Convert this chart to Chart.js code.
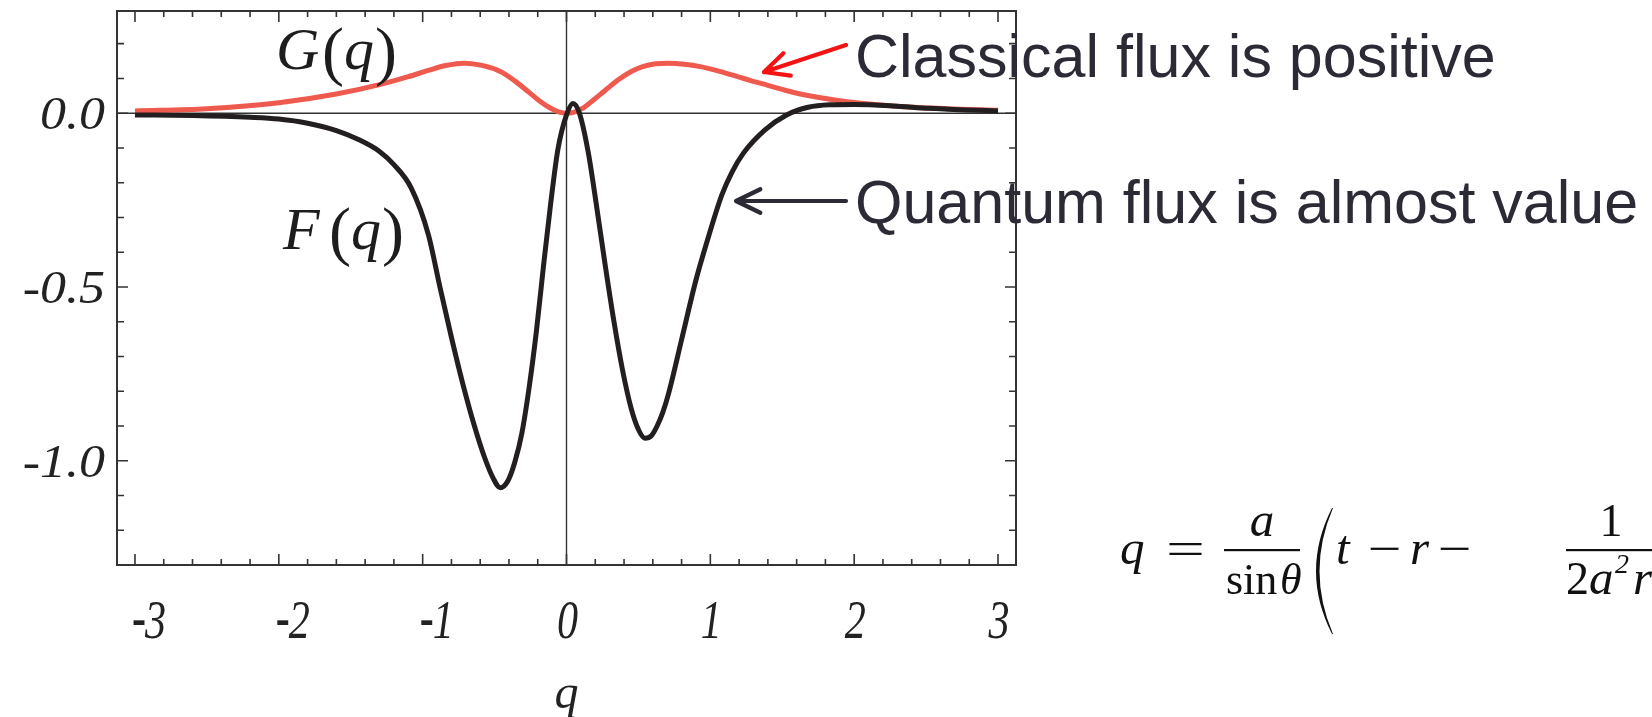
<!DOCTYPE html>
<html>
<head>
<meta charset="utf-8">
<script src="https://cdn.jsdelivr.net/npm/chart.js@4.4.1/dist/chart.umd.min.js"></script>
<style>
  html, body { margin: 0; padding: 0; background: #fff; }
  canvas { display: block; }
</style>
</head>
<body>
<canvas id="flux" width="1652" height="717"></canvas>
<script>
// quantum flux F(q)
const qF = [-3.0, -2.6, -2.2, -2.0, -1.8, -1.6, -1.45, -1.3, -1.2, -1.08, -0.96, -0.88, -0.80, -0.72,
            -0.64, -0.57, -0.51, -0.46, -0.41, -0.36, -0.31, -0.26, -0.21, -0.16, -0.11, -0.06, 0.0,
            0.045, 0.09, 0.15, 0.21, 0.27, 0.33, 0.39, 0.45, 0.50, 0.545, 0.59, 0.63, 0.67, 0.71,
            0.80, 0.90, 0.98, 1.08, 1.15, 1.23, 1.38, 1.53, 1.68, 1.83, 2.0, 2.27, 2.52, 2.77, 3.0];
const fluxF = [-0.005, -0.007, -0.012, -0.017, -0.029, -0.05, -0.075, -0.11, -0.148, -0.215, -0.35, -0.50, -0.645, -0.78,
               -0.90, -0.99, -1.05, -1.078, -1.06, -1.005, -0.92, -0.79, -0.63, -0.44, -0.26, -0.105, -0.005,
               0.028, 0.0, -0.11, -0.27, -0.44, -0.60, -0.74, -0.85, -0.91, -0.935, -0.928, -0.90, -0.86, -0.806,
               -0.652, -0.48, -0.365, -0.235, -0.17, -0.115, -0.048, -0.005, 0.017, 0.024, 0.025, 0.021, 0.014, 0.0095, 0.0066];

// classical flux G(q)
const qG = [-3.0, -2.5, -2.0, -1.6, -1.3, -1.1, -0.96, -0.84, -0.71, -0.58, -0.46, -0.36, -0.26, -0.18,
            -0.11, -0.05, 0.0, 0.06, 0.12, 0.185, 0.27, 0.36, 0.45, 0.53, 0.62, 0.71, 0.82, 0.93,
            1.04, 1.15, 1.27, 1.40, 1.52, 1.65, 1.90, 2.27, 2.64, 3.0];
const fluxG = [0.0066, 0.013, 0.03, 0.055, 0.082, 0.105, 0.123, 0.137, 0.144, 0.137, 0.12, 0.093, 0.06, 0.033,
               0.014, 0.003, 0.0, 0.004, 0.016, 0.037, 0.066, 0.096, 0.12, 0.134, 0.142, 0.144, 0.141, 0.134,
               0.123, 0.11, 0.095, 0.08, 0.066, 0.053, 0.036, 0.021, 0.013, 0.0085];

const xTicks = [-3, -2, -1, 0, 1, 2, 3];
const xTickLabels = ['-3', '-2', '-1', '0', '1', '2', '3'];
const yTicks = [0, -0.5, -1];
const yTickLabels = ['0.0', '-0.5', '-1.0'];

const AXIS = '#333333';
const INK = '#2b2a35';
const SERIF = '"Liberation Serif", "Times New Roman", serif';
const SANS = '"Liberation Sans", Arial, sans-serif';

function arrow(ctx, x1, y1, x2, y2, color) {
    const ang = Math.atan2(y2 - y1, x2 - x1);
    const len = 27, spread = 0.45;
    ctx.save();
    ctx.strokeStyle = color;
    ctx.lineWidth = 4.2;
    ctx.lineCap = 'round';
    ctx.lineJoin = 'round';
    ctx.beginPath();
    ctx.moveTo(x1, y1);
    ctx.lineTo(x2, y2);
    ctx.moveTo(x2 - len * Math.cos(ang - spread), y2 - len * Math.sin(ang - spread));
    ctx.lineTo(x2, y2);
    ctx.lineTo(x2 - len * Math.cos(ang + spread), y2 - len * Math.sin(ang + spread));
    ctx.stroke();
    ctx.restore();
}

// draw text stretched horizontally by sx
function stretched(ctx, text, x, y, sx, align) {
    ctx.save();
    ctx.translate(x, y);
    ctx.scale(sx, 1);
    ctx.textAlign = align || 'left';
    ctx.fillText(text, 0, 0);
    ctx.restore();
}

// pieces: [text, font, x, dy]
function pieces(ctx, list, baseline, align) {
    ctx.textAlign = align || 'left';
    ctx.textBaseline = 'alphabetic';
    list.forEach(([t, f, x, dy]) => {
        ctx.font = f;
        ctx.fillText(t, x, baseline + (dy || 0));
    });
}

function funcLabel(ctx, letter, x, baseline) {
    const it = 'italic 60px ' + SERIF;
    const up = '66px ' + SERIF;
    pieces(ctx, [
        [letter, it, x],
        ['(', up, x + 46, 4],
        ['q', it, x + 68],
        [')', up, x + 99, 4]
    ], baseline);
}

const framePlugin = {
    id: 'framePlugin',
    beforeDatasetsDraw(chart) {
        const {ctx, chartArea: a, scales: {x, y}} = chart;
        const x0 = x.getPixelForValue(0), y0 = y.getPixelForValue(0);
        ctx.save();
        ctx.strokeStyle = AXIS;
        ctx.lineWidth = 1.4;
        ctx.beginPath();
        ctx.moveTo(x0, a.top); ctx.lineTo(x0, a.bottom);
        ctx.moveTo(a.left, y0); ctx.lineTo(a.right, y0);
        ctx.stroke();
        ctx.restore();
    },
    afterDatasetsDraw(chart) {
        const {ctx, chartArea: a, scales: {x, y}} = chart;
        ctx.save();
        ctx.strokeStyle = AXIS;

        // tick marks on all four sides, pointing inward
        ctx.lineWidth = 1.6;
        ctx.beginPath();
        for (let i = -15; i <= 15; i++) {
            const px = x.getPixelForValue(i / 5);
            const len = (i % 5 === 0) ? 11 : 6;
            ctx.moveTo(px, a.bottom); ctx.lineTo(px, a.bottom - len);
            ctx.moveTo(px, a.top); ctx.lineTo(px, a.top + len);
        }
        for (let i = -12; i <= 2; i++) {
            const py = y.getPixelForValue(i / 10);
            const len = (i % 5 === 0) ? 11 : 7;
            ctx.moveTo(a.left, py); ctx.lineTo(a.left + len, py);
            ctx.moveTo(a.right, py); ctx.lineTo(a.right - len, py);
        }
        ctx.stroke();

        // frame
        ctx.lineWidth = 2;
        ctx.strokeRect(a.left, a.top, a.right - a.left, a.bottom - a.top);

        // tick labels
        ctx.fillStyle = '#222';
        ctx.textBaseline = 'alphabetic';
        xTicks.forEach((v, i) => {
            const px = x.getPixelForValue(v);
            const lab = xTickLabels[i];
            if (lab[0] === '-') {
                ctx.font = 'bold 54px ' + SERIF;
                stretched(ctx, '-', px - 3, 636, 0.78, 'left');
                ctx.font = 'italic 54px ' + SERIF;
                stretched(ctx, lab.slice(1), px + 10, 638, 0.78, 'left');
            } else {
                ctx.font = 'italic 54px ' + SERIF;
                stretched(ctx, lab, px + 1, 638, 0.78, 'center');
            }
        });
        ctx.font = 'italic 46px ' + SERIF;
        yTicks.forEach((v, i) => stretched(ctx, yTickLabels[i], 105, y.getPixelForValue(v) + 16, 1.13, 'right'));

        // axis title
        ctx.font = 'italic 48px ' + SERIF;
        ctx.textAlign = 'center';
        ctx.fillText('q', x.getPixelForValue(0), 708);

        // curve names
        ctx.fillStyle = '#1e1c1d';
        funcLabel(ctx, 'G', 276, 69);
        funcLabel(ctx, 'F', 283, 249);

        // annotations
        ctx.fillStyle = INK;
        ctx.font = '61px ' + SANS;
        ctx.textAlign = 'left';
        ctx.fillText('Classical', 855, 77);
        ctx.fillText('flux is positive', 1116, 77);
        ctx.fillText('Quantum flux is almost value', 855, 223);
        arrow(ctx, 846, 45, 764, 72, '#f21414');
        arrow(ctx, 846, 201, 736, 201, INK);

        // definition of q
        ctx.fillStyle = '#111';
        const mi = 'italic 49px ' + SERIF, mu = '46px ' + SERIF, sm = 'italic 28px ' + SERIF;
        ctx.font = mi;
        ctx.fillText('q', 1120, 564);
        ctx.font = mu;
        stretched(ctx, '=', 1166, 564, 1.5, 'left');
        stretched(ctx, '\u2212', 1368, 564, 1.3, 'left');
        stretched(ctx, '\u2212', 1438, 564, 1.3, 'left');
        pieces(ctx, [
            ['t', mi, 1336],
            ['r', mi, 1410]
        ], 564);
        ctx.fillRect(1224, 549, 76, 2.2);
        ctx.fillRect(1566, 549, 100, 2.2);
        pieces(ctx, [['a', mi, 1262], ['1', mu, 1611]], 536, 'center');
        pieces(ctx, [
            ['sin', '44px ' + SERIF, 1226],
            ['\u03b8', 'italic 44px ' + SERIF, 1280],
            ['2', mu, 1566],
            ['a', mi, 1589],
            ['2', sm, 1615, -21],
            ['r', mi, 1633]
        ], 594);

        // tall left parenthesis
        ctx.beginPath();
        ctx.moveTo(1332, 508);
        ctx.quadraticCurveTo(1300, 571, 1332, 634);
        ctx.lineTo(1333, 634);
        ctx.quadraticCurveTo(1306, 571, 1333, 508);
        ctx.closePath();
        ctx.fill();

        ctx.restore();
    }
};

const toPoints = (xs, ys) => xs.map((v, i) => ({x: v, y: ys[i]}));

new Chart(document.getElementById('flux'), {
    type: 'line',
    data: {
        datasets: [
            {
                label: 'F(q)',
                data: toPoints(qF, fluxF),
                borderColor: '#231f20',
                borderWidth: 5,
                pointRadius: 0,
                cubicInterpolationMode: 'monotone',
                fill: false
            },
            {
                label: 'G(q)',
                data: toPoints(qG, fluxG),
                borderColor: '#ef5a4e',
                borderWidth: 5,
                pointRadius: 0,
                cubicInterpolationMode: 'monotone',
                fill: false
            }
        ]
    },
    options: {
        responsive: false,
        animation: false,
        events: [],
        layout: {padding: {left: 117, top: 11, right: 636, bottom: 152}},
        plugins: {legend: {display: false}, tooltip: {enabled: false}},
        scales: {
            x: {type: 'linear', display: false, min: -3.125, max: 3.125},
            y: {type: 'linear', display: false, min: -1.30, max: 0.294}
        }
    },
    plugins: [framePlugin]
});
</script>
</body>
</html>
